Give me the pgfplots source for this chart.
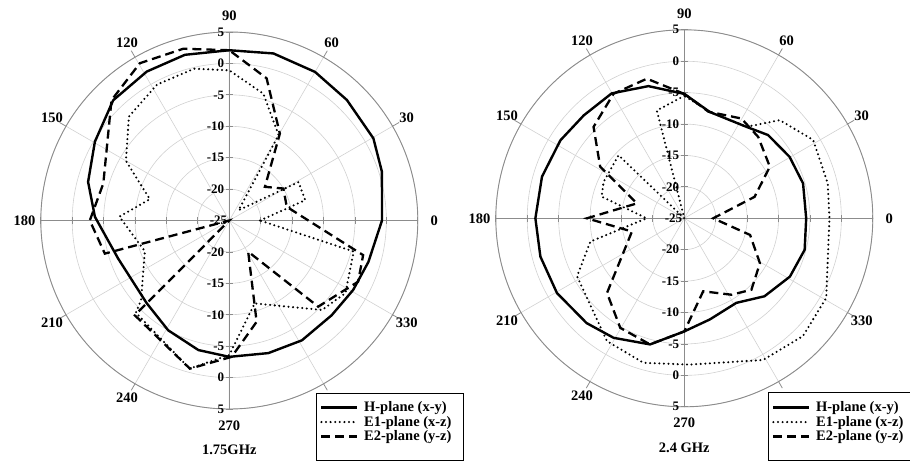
\documentclass[border=0pt]{standalone}
\usepackage{pgfplots}
\pgfplotsset{compat=1.18}
\usepackage{pgfplotstable}
\usepgfplotslibrary{polar}
\usepackage{fontspec}
\setmainfont{Liberation Serif}

\definecolor{gridgray}{gray}{0.82}
\definecolor{axgray}{gray}{0.55}

\newcommand\anglefont{\fontsize{14.5}{16}\selectfont\bfseries}
\newcommand\radfont{\fontsize{13}{14}\selectfont\bfseries}
\newcommand\legfont{\fontsize{14.5}{17}\selectfont\bfseries}

% ---------- 1.75 GHz ----------
\pgfplotstableread{
a d
0 -0.7
17.7 0.5
29.7 1.4
45.7 1.8
60 2.3
75.2 2.5
90 2.1
105 2.3
119 2.1
134 1.6
149.6 -0.2
164.7 -1.7
178.4 -3.6
198.9 -6.3
225 -6.4
240.9 -5.0
256.6 -3.8
270 -3.3
286.4 -3.0
301.2 -2.7
317.2 -2.8
330.7 -2.4
343.4 -1.9
360 -0.7
}\HL
\pgfplotstableread{
a d
0 -20.1
15 -12.5
29 -12.4
48 -22.8
60 -9.3
75 -4.1
90 -1.1
103 -0.2
118 -0.5
134 -2.0
150 -6.0
165 -11.9
178 -7.5
200 -10.7
222 -6.1
224.6 -4.1
255 -0.6
270 -3.6
287 -11.2
316 -4.5
328 -3.2
346 -4.6
360 -20.1
}\EAL
\pgfplotstableread{
a d
90 2.1
105 3.3
119.6 3.8
134.4 1.8
163.6 -4.1
180 -2.8
194.9 -4.5
210 -25
225.1 -3.7
255.1 -0.6
271 -3.3
285.1 -8.3
301.2 -19.2
315.9 -5.3
334.6 -2.3
345.5 -3.0
373.4 -15.6
390.6 -15.0
403.4 -17.2
419.8 -9.0
435.3 -1.6
450 2.1
}\EBL
% ---------- 2.4 GHz ----------
\pgfplotstableread{
a d
0 -5.6
16.4 -5.3
30.3 -5.6
44.8 -6.2
55.8 -7.4
76.5 -7.6
90 -5.2
105.2 -3.2
120.2 -2.0
134.3 -2.1
147.8 -1.7
163.7 -1.4
180 -1.3
194.9 -1.3
210.4 -1.5
227 -2.2
239.4 -2.9
254.8 -4.2
270 -7.0
284.2 -8.4
301.6 -9.2
315.8 -7.2
331.1 -5.8
345.3 -5.2
360 -5.6
}\HR
\pgfplotstableread{
a d
90 -5.5
104.3 -7.3
118 -25
136.2 -10.5
155.6 -10.9
165.3 -11.4
180 -19.0
193.9 -9.6
208.4 -5.6
237.8 -1.9
254.2 -1.1
272 -1.7
299.1 0.8
315.2 1.6
330.7 0.9
360 -1.9
373.7 -1.5
391.3 -1.0
405.8 -3.2
415.8 -7.4
436.5 -7.6
450 -5.5
}\EAR
\pgfplotstableread{
a d
90 -5.2
105 -2.0
119.6 -2.2
134.8 -4.5
148.5 -9.3
162.5 -17.1
180 -9.5
194.2 -16.4
224 -7.9
239.7 -4.8
254.8 -4.2
270 -7.0
284.5 -13.0
301.7 -10.7
313.2 -9.4
329.3 -11.0
345.8 -14.2
360 -20.4
377 -13.3
391.1 -9.1
407.8 -7.5
420.2 -6.7
437.3 -7.6
450 -5.2
}\EBR

\tikzset{rl/.style={font=\radfont, anchor=east, inner sep=0pt, xshift=-5pt}}

\newcommand\polardecor{%
  \draw[axgray, line width=0.9pt] (axis cs:0,30) -- (axis cs:180,30);
  \draw[axgray, line width=0.9pt] (axis cs:90,30) -- (axis cs:270,30);
  \pgfplotsinvokeforeach{5,10,15,20,25,30}{%
    \draw[axgray, line width=0.8pt] ([xshift=-3.5pt]axis cs:90,##1) -- ([xshift=3.5pt]axis cs:90,##1);
    \draw[axgray, line width=0.8pt] ([xshift=-3.5pt]axis cs:270,##1) -- ([xshift=3.5pt]axis cs:270,##1);
    \draw[axgray, line width=0.8pt] ([yshift=-3.5pt]axis cs:0,##1) -- ([yshift=3.5pt]axis cs:0,##1);
    \draw[axgray, line width=0.8pt] ([yshift=-3.5pt]axis cs:180,##1) -- ([yshift=3.5pt]axis cs:180,##1);
  }%
  \pgfplotsinvokeforeach{30,60,120,150,210,240,300,330}{%
    \draw[axgray, line width=0.8pt] (axis cs:##1,30) -- (axis cs:##1,31.2);
  }%
  \pgfplotsinvokeforeach{0,30,60,90,120,150,180,210,240,270,330}{%
    \node[font=\anglefont] at (axis cs:##1,32.6) {##1};
  }%
  \node[rl] at (axis cs:90,30) {5};
  \node[rl] at (axis cs:90,25) {0};
  \node[rl] at (axis cs:90,20) {-5};
  \node[rl] at (axis cs:90,15) {-10};
  \node[rl] at (axis cs:90,10) {-15};
  \node[rl] at (axis cs:90,5) {-20};
  \node[rl, xshift=3pt] at (axis cs:90,0) {-25};
  \node[rl] at (axis cs:270,5) {-20};
  \node[rl] at (axis cs:270,10) {-15};
  \node[rl] at (axis cs:270,15) {-10};
  \node[rl] at (axis cs:270,20) {-5};
  \node[rl] at (axis cs:270,25) {0};
  \node[rl] at (axis cs:270,30) {5};
}

\pgfplotsset{
  mypolar/.style={
    scale only axis, width=377pt, height=377pt,
    ymin=0, ymax=30,
    xtick={0,30,...,330}, ytick={5,10,...,30},
    xticklabels={}, yticklabels={},
    xticklabel style={opacity=0}, yticklabel style={opacity=0},
    grid=major, major grid style={gridgray, line width=0.6pt},
    axis line style={axgray, line width=0.9pt},
    tick style={draw=none},
    clip=false,
    legend cell align=left,
    legend image code/.code={\draw[##1] (0pt,0pt) -- (36pt,0pt);},
  },
  hst/.style={black, line width=2.4pt, line join=round},
  e1st/.style={black, line width=2.3pt, line cap=round, dash pattern=on 0pt off 4.6pt},
  e2st/.style={black, line width=2.3pt, dash pattern=on 9pt off 5pt},
}

\begin{document}
\begin{tikzpicture}
\useasboundingbox (0,0) rectangle (910pt,461pt);
\begin{polaraxis}[mypolar,
  at={(229.3pt,240.5pt)}, anchor=center,
  legend style={at={(axis description cs:0.7406,0.0239)}, anchor=north west,
    draw=none, fill=none, font=\legfont, inner sep=0pt, column sep=4pt,
    nodes={inner sep=1.5pt}},
]
\draw[black, line width=0.7pt, fill=white] (axis description cs:0.730,0.042) rectangle (axis description cs:1.12,-0.1353);
\polardecor
\addplot[hst] table[x=a, y expr=\thisrow{d}+25] {\HL};
\addlegendentry{H-plane (x-y)}
\addplot[e1st] table[x=a, y expr=\thisrow{d}+25] {\EAL};
\addlegendentry{E1-plane (x-z)}
\addplot[e2st] table[x=a, y expr=\thisrow{d}+25] {\EBL};
\addlegendentry{E2-plane (y-z)}
\node[font=\anglefont] at (axis cs:270,36.5) {1.75GHz};
\end{polaraxis}

\begin{polaraxis}[mypolar,
  at={(684.3pt,242.7pt)}, anchor=center,
  legend style={at={(axis description cs:0.7326,0.018)}, anchor=north west,
    draw=none, fill=none, font=\legfont, inner sep=0pt, column sep=4pt,
    nodes={inner sep=1.5pt}},
]
\draw[black, line width=0.7pt, fill=white] (axis description cs:0.722,0.039) rectangle (axis description cs:1.112,-0.141);
\polardecor
\addplot[hst] table[x=a, y expr=\thisrow{d}+25] {\HR};
\addlegendentry{H-plane (x-y)}
\addplot[e1st] table[x=a, y expr=\thisrow{d}+25] {\EAR};
\addlegendentry{E1-plane (x-z)}
\addplot[e2st] table[x=a, y expr=\thisrow{d}+25] {\EBR};
\addlegendentry{E2-plane (y-z)}
\node[font=\anglefont] at (axis cs:270,36.6) {2.4 GHz};
\end{polaraxis}
\end{tikzpicture}
\end{document}
